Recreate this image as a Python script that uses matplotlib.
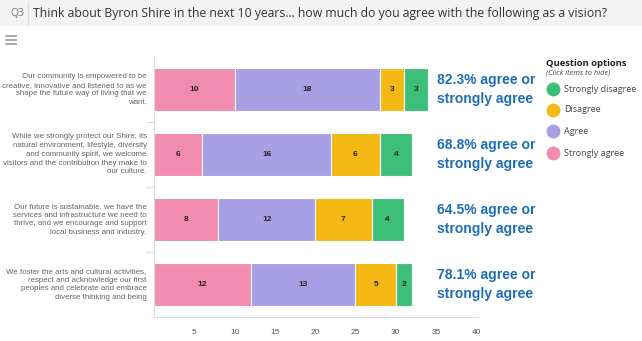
import numpy as np
import matplotlib.pyplot as plt
from matplotlib.patches import Rectangle

plt.rcParams['font.family'] = ['Liberation Sans', 'DejaVu Sans']

statements = [
    "Our community is empowered to be\ncreative, innovative and listened to as we\nshape the future way of living that we\nwant.",
    "While we strongly protect our Shire; its\nnatural environment, lifestyle, diversity\nand community spirit, we welcome\nvisitors and the contribution they make to\nour culture.",
    "Our future is sustainable, we have the\nservices and infrastructure we need to\nthrive, and we encourage and support\nlocal business and industry.",
    "We foster the arts and cultural activities,\nrespect and acknowledge our first\npeoples and celebrate and embrace\ndiverse thinking and being",
]
strongly_agree = [10, 6, 8, 12]
agree = [18, 16, 12, 13]
disagree = [3, 6, 7, 5]
strongly_disagree = [3, 4, 4, 2]
pct_labels = ["82.3% agree or\nstrongly agree", "68.8% agree or\nstrongly agree",
              "64.5% agree or\nstrongly agree", "78.1% agree or\nstrongly agree"]
legend_names = ["Strongly disagree", "Disagree", "Agree", "Strongly agree"]
xticks = [5, 10, 15, 20, 25, 30, 35, 40]

colors = {"Strongly agree": "#f28bb0", "Agree": "#a99fe5",
          "Disagree": "#f4b915", "Strongly disagree": "#3dbf79"}

fig = plt.figure(figsize=(6.42, 3.41), dpi=100)

# header bar
fig.patches.append(Rectangle((0, 1 - 26 / 341), 1, 26 / 341, transform=fig.transFigure,
                             facecolor="#f3f3f3", edgecolor="none"))
fig.add_artist(plt.Line2D([28 / 642, 28 / 642], [1 - 25 / 341, 1 - 2 / 341],
                          transform=fig.transFigure, color="#dddddd", lw=0.8))
fig.text(10 / 642, 1 - 13 / 341, "Q3", fontsize=7.5, color="#777777", va="center",
         family=["Open Sans", "DejaVu Sans"])
fig.text(33 / 642, 1 - 13 / 341,
         "Think about Byron Shire in the next 10 years... how much do you agree with the following as a vision?",
         fontsize=8.8, color="#333333", va="center", family=["Open Sans", "DejaVu Sans"])
# hamburger icon
for yy in (36, 40, 44):
    fig.add_artist(plt.Line2D([6 / 642, 16 / 642], [1 - yy / 341] * 2,
                              transform=fig.transFigure, color="#999999", lw=1.2))

ax = fig.add_axes([154 / 642, 1 - 317 / 341, 324 / 642, 260 / 341])
y = np.arange(len(statements))
left = np.zeros(len(statements))
series = [("Strongly agree", strongly_agree), ("Agree", agree),
          ("Disagree", disagree), ("Strongly disagree", strongly_disagree)]
for name, vals in series:
    bars = ax.barh(y, vals, left=left, height=0.66, color=colors[name],
                   edgecolor="white", linewidth=0.8)
    for b, v in zip(bars, vals):
        ax.text(b.get_x() + b.get_width() / 2, b.get_y() + b.get_height() / 2, str(v),
                ha="center", va="center", fontsize=6, fontweight="bold", color="#222222")
    left += np.array(vals)

ax.set_ylim(3.5, -0.5)
ax.set_xlim(0, 40.2)
ax.set_xticks(xticks)
ax.set_xticklabels([str(t) for t in xticks])
ax.tick_params(axis="x", length=0, labelsize=6, colors="#555555", pad=9)
ax.set_yticks([])
ax.set_yticks([0.5, 1.5, 2.5], minor=True)
ax.tick_params(axis="y", which="minor", length=6, color="#dddddd", width=0.8)
for s in ("top", "right"):
    ax.spines[s].set_visible(False)
ax.spines["left"].set_color("#dddddd")
ax.spines["bottom"].set_color("#dddddd")

for i, txt in enumerate(statements):
    ax.text(-0.9, i, txt, ha="right", va="center", fontsize=5.65, color="#666666",
            linespacing=1.35)

for i, txt in enumerate(pct_labels):
    ax.text(35.1, i, txt, ha="left", va="center", fontsize=10, fontweight="bold",
            color="#1f6db5", linespacing=1.4, clip_on=False)

# legend
fig.text(546 / 642, 1 - 63 / 341, "Question options", fontsize=6.8, fontweight="bold",
         color="#222222", va="center", family=["Open Sans", "DejaVu Sans"])
fig.text(546 / 642, 1 - 73 / 341, "(Click items to hide)", fontsize=5.4, style="italic",
         color="#444444", va="center", family=["Open Sans", "DejaVu Sans"])
leg_y = [89, 110, 131, 153]
for name, yy in zip(legend_names, leg_y):
    fig.add_artist(plt.Line2D([553 / 642], [1 - yy / 341], marker="o", markersize=9,
                              color=colors[name], transform=fig.transFigure, lw=0))
    fig.text(564 / 642, 1 - yy / 341, name, fontsize=6.5, color="#444444", va="center",
             family=["Open Sans", "DejaVu Sans"])

fig.savefig("out.png", dpi=100)
